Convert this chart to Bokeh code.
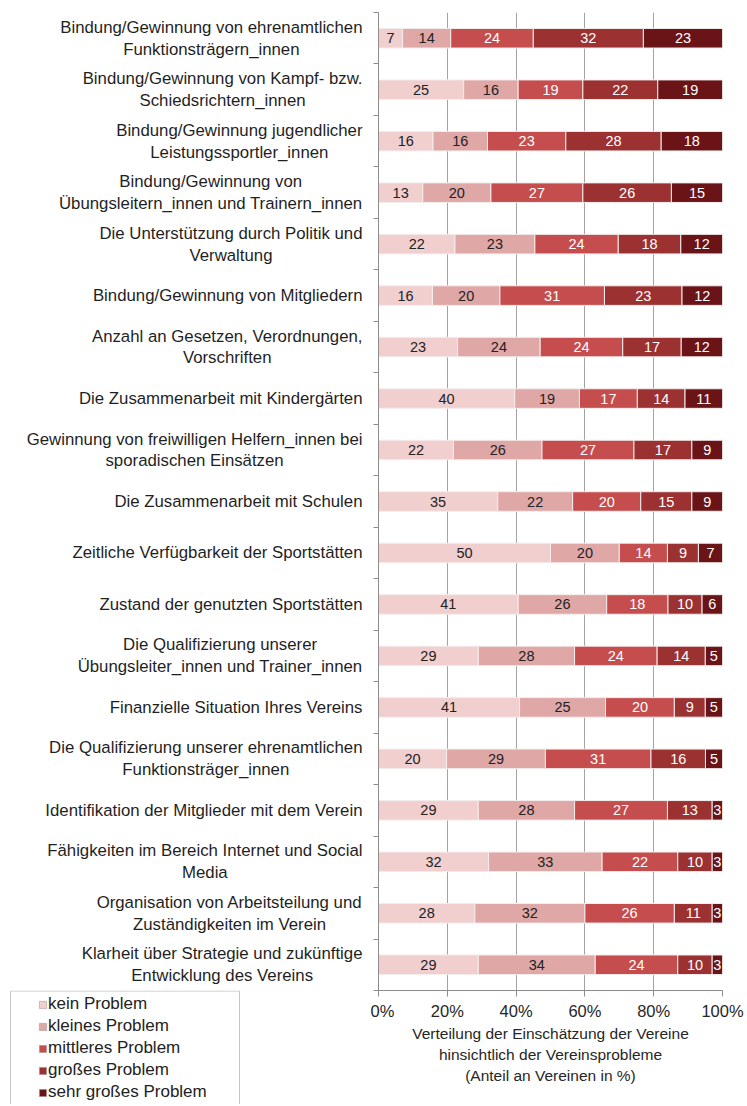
from bokeh.plotting import figure
from bokeh.models import ColumnDataSource, Range1d, FixedTicker, Legend, LegendItem, CustomJSTickFormatter
from bokeh.layouts import row, column
from bokeh.embed import file_html
from bokeh.resources import INLINE
from bokeh.core.properties import value

categories = [
    "Bindung/Gewinnung von ehrenamtlichen\nFunktionsträgern_innen",
    "Bindung/Gewinnung von Kampf- bzw.\nSchiedsrichtern_innen",
    "Bindung/Gewinnung jugendlicher\nLeistungssportler_innen",
    "Bindung/Gewinnung von\nÜbungsleitern_innen und Trainern_innen",
    "Die Unterstützung durch Politik und\nVerwaltung",
    "Bindung/Gewinnung von Mitgliedern",
    "Anzahl an Gesetzen, Verordnungen,\nVorschriften",
    "Die Zusammenarbeit mit Kindergärten",
    "Gewinnung von freiwilligen Helfern_innen bei\nsporadischen Einsätzen",
    "Die Zusammenarbeit mit Schulen",
    "Zeitliche Verfügbarkeit der Sportstätten",
    "Zustand der genutzten Sportstätten",
    "Die Qualifizierung unserer\nÜbungsleiter_innen und Trainer_innen",
    "Finanzielle Situation Ihres Vereins",
    "Die Qualifizierung unserer ehrenamtlichen\nFunktionsträger_innen",
    "Identifikation der Mitglieder mit dem Verein",
    "Fähigkeiten im Bereich Internet und Social\nMedia",
    "Organisation von Arbeitsteilung und\nZuständigkeiten im Verein",
    "Klarheit über Strategie und zukünftige\nEntwicklung des Vereins",
]
kein = [7, 25, 16, 13, 22, 16, 23, 40, 22, 35, 50, 41, 29, 41, 20, 29, 32, 28, 29]
kleines = [14, 16, 16, 20, 23, 20, 24, 19, 26, 22, 20, 26, 28, 25, 29, 28, 33, 32, 34]
mittleres = [24, 19, 23, 27, 24, 31, 24, 17, 27, 20, 14, 18, 24, 20, 31, 27, 22, 26, 24]
grosses = [32, 22, 28, 26, 18, 23, 17, 14, 17, 15, 9, 10, 14, 9, 16, 13, 10, 11, 10]
sehr_grosses = [23, 19, 18, 15, 12, 12, 12, 11, 9, 9, 7, 6, 5, 5, 5, 3, 3, 3, 3]

series_names = ["kein Problem", "kleines Problem", "mittleres Problem",
                "großes Problem", "sehr großes Problem"]
colors = ["#f2cfcf", "#e0a7a7", "#c64d4d", "#9c3131", "#6a1418"]
text_colors = ["#222222", "#222222", "#ffffff", "#ffffff", "#ffffff"]
tick_values = [0, 20, 40, 60, 80, 100]
tick_labels = ["0%", "20%", "40%", "60%", "80%", "100%"]
axis_title = ("Verteilung der Einschätzung der Vereine\n"
              "hinsichtlich der Vereinsprobleme\n"
              "(Anteil an Vereinen in %)")

FONT = "Liberation Sans"
series = [kein, kleines, mittleres, grosses, sehr_grosses]
n = len(categories)
ys = [n - i - 0.5 for i in range(n)]
totals = [sum(s[i] for s in series) for i in range(n)]
shares = [[s[i] * 100.0 / totals[i] for i in range(n)] for s in series]
keys = ["s%d" % j for j in range(len(series))]

data = {"y": ys}
for k, sh in zip(keys, shares):
    data[k] = sh
src = ColumnDataSource(data)

lx, ly, lt, lc = [], [], [], []
for i in range(n):
    cum = 0.0
    for j in range(len(series)):
        w = shares[j][i]
        lx.append(cum + w / 2)
        ly.append(ys[i])
        lt.append(str(series[j][i]))
        lc.append(text_colors[j])
        cum += w
lab_src = ColumnDataSource(dict(x=lx, y=ly, t=lt, c=lc))

# layout geometry (pixels)
FIG_H = 1104
TOP = 12
FRAME_H = 978
BOTTOM = FIG_H - TOP - FRAME_H
LEFT_W = 370
RIGHT_W = 375
AX_W = 8
RIGHT_PAD = 23

# ---------------- right figure: bars ----------------
right = figure(width=RIGHT_W, height=FIG_H, x_range=Range1d(0, 100), y_range=Range1d(0, n),
               output_backend="svg", toolbar_location=None,
               min_border_top=TOP, min_border_bottom=BOTTOM,
               min_border_left=AX_W, min_border_right=RIGHT_PAD)
right.outline_line_color = None
right.ygrid.visible = False
right.xgrid.ticker = FixedTicker(ticks=tick_values)
right.xgrid.grid_line_color = "#a3a3a3"
right.xgrid.grid_line_width = 1

right.hbar_stack(keys, y="y", height=0.38, color=colors, line_color="#f3eded",
                 line_width=1, source=src)
right.text(x="x", y="y", text="t", text_color="c", source=lab_src,
           text_font=value(FONT), text_font_size="14.5px",
           text_align="center", text_baseline="middle")

xa = right.xaxis[0]
xa.ticker = FixedTicker(ticks=tick_values)
xa.major_label_overrides = {v: l for v, l in zip(tick_values, tick_labels)}
xa.minor_tick_line_color = None
xa.major_tick_in = 0
xa.major_tick_out = 6
xa.axis_line_color = "#8c8c8c"
xa.major_tick_line_color = "#8c8c8c"
xa.major_label_text_font = FONT
xa.major_label_text_font_size = "16.5px"
xa.major_label_text_color = "#262626"
xa.major_label_standoff = 5
xa.axis_label = axis_title
xa.axis_label_text_font = FONT
xa.axis_label_text_font_size = "15.5px"
xa.axis_label_text_font_style = "normal"
xa.axis_label_text_color = "#262626"
xa.axis_label_text_line_height = 1.25
xa.axis_label_standoff = 2

ya = right.yaxis[0]
ya.ticker = FixedTicker(ticks=list(range(n + 1)))
ya.formatter = CustomJSTickFormatter(code="return ''")
ya.minor_tick_line_color = None
ya.major_tick_in = 0
ya.major_tick_out = 5
ya.major_label_standoff = 0
ya.axis_line_color = "#8c8c8c"
ya.major_tick_line_color = "#8c8c8c"

# ---------------- left figure: category labels ----------------
LAB_H = TOP + FRAME_H
left = figure(width=LEFT_W, height=LAB_H, x_range=Range1d(0, LEFT_W), y_range=Range1d(0, n),
              output_backend="svg", toolbar_location=None,
              min_border_top=TOP, min_border_bottom=0, min_border_left=0, min_border_right=0,
              x_axis_location=None, y_axis_location=None)
left.outline_line_color = None
left.grid.visible = False

left.text(x=[LEFT_W - 8] * n, y=ys, text=categories, anchor="center_right",
          text_align="center", text_baseline="middle",
          text_font=value(FONT), text_font_size="16.8px", text_color="#1f1f1f",
          text_line_height=1.15)

# ---------------- legend figure (below the labels) ----------------
LEG_H = FIG_H - LAB_H
leg = figure(width=LEFT_W, height=LEG_H, x_range=Range1d(0, LEFT_W), y_range=Range1d(0, LEG_H),
             output_backend="svg", toolbar_location=None,
             min_border_top=0, min_border_bottom=0, min_border_left=0, min_border_right=0,
             x_axis_location=None, y_axis_location=None)
leg.outline_line_color = None
leg.grid.visible = False

leg.quad(left=[10], right=[239], top=[LEG_H - 0.5], bottom=[-10],
         fill_color="white", line_color="#c6c6c6", line_width=1)

items = []
for name, col in zip(series_names, colors):
    # zero-size proxy glyph, only used to draw the legend swatch
    r = leg.hbar(y=[0], left=[0], right=[0], height=0, fill_color=col,
                 line_color="#a89a9a", line_width=0.6)
    items.append(LegendItem(label=name, renderers=[r]))

legend = Legend(items=items, location=(38, 2), padding=2, spacing=2,
                label_height=20, glyph_height=9, glyph_width=9, label_standoff=1,
                label_text_font=FONT, label_text_font_size="17px", label_text_color="#222222",
                border_line_color=None, background_fill_alpha=0, margin=0)
leg.add_layout(legend)

layout = row(column(left, leg), right)
open("out.html", "w").write(file_html(layout, INLINE))
